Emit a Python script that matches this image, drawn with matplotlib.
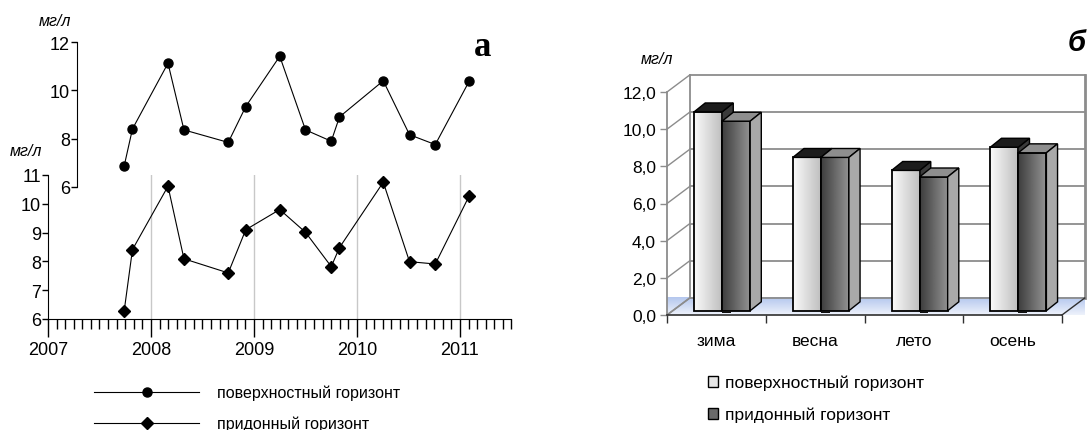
import matplotlib
matplotlib.use('Agg')
import matplotlib.pyplot as plt
import numpy as np
from matplotlib.patches import Polygon, Rectangle, Patch
from matplotlib.lines import Line2D
from matplotlib.colors import LinearSegmentedColormap
from matplotlib.ticker import MultipleLocator, FixedLocator

plt.rcParams['font.family'] = ['Liberation Sans', 'DejaVu Sans']

# --- data: panel a (monthly samples, decimal years) ---
dates = [2007.74, 2007.82, 2008.165, 2008.32, 2008.75, 2008.92, 2009.25,
         2009.50, 2009.75, 2009.83, 2010.255, 2010.51, 2010.76, 2011.09]
surface = [6.87, 8.40, 11.13, 8.36, 7.84, 9.33, 11.42,
           8.36, 7.89, 8.90, 10.40, 8.16, 7.75, 10.39]
bottom = [6.29, 8.41, 10.61, 8.09, 7.60, 9.10, 9.80,
          9.01, 7.82, 8.48, 10.75, 7.99, 7.91, 10.28]
years = [2007, 2008, 2009, 2010, 2011]

# --- data: panel б (seasonal means) ---
seasons = ['зима', 'весна', 'лето', 'осень']
season_surface = [10.7, 8.25, 7.55, 8.8]
season_bottom = [10.2, 8.25, 7.2, 8.5]
lbl_surf = 'поверхностный горизонт'
lbl_bot = 'придонный горизонт'

W, H = 1089, 431
fig = plt.figure(figsize=(W / 100, H / 100), dpi=100)


def box(x0, y0, x1, y1):
    # pixel box (top-left origin) -> figure fraction
    return [x0 / W, 1 - y1 / H, (x1 - x0) / W, (y1 - y0) / H]


# ================= panel a =================
xlo, xhi = 2007, 2011.5
axb = fig.add_axes(box(48, 176, 511.5, 320))
axb.plot(dates, bottom, color='black', lw=0.8, marker='D', ms=6.5,
         mfc='black', mec='black')
axb.set_xlim(xlo, xhi)
axb.set_ylim(6, 11)
axb.set_yticks(range(6, 12))
axb.set_xticks(years)
axb.xaxis.set_minor_locator(MultipleLocator(1 / 12))
for yr in years[1:]:
    axb.axvline(yr, color='#c8c8c8', lw=1.0, zorder=0)
for s in ['top', 'right']:
    axb.spines[s].set_visible(False)
axb.tick_params(axis='x', which='major', length=13, width=1, pad=3, labelsize=13)
axb.tick_params(axis='x', which='minor', length=7, width=1)
axb.tick_params(axis='y', length=4, width=1, pad=1, labelsize=13)

axt = fig.add_axes(box(48, 43.3, 511.5, 187.7))
axt.patch.set_visible(False)
axt.plot(dates, surface, color='black', lw=0.8, marker='o', ms=6.5,
         mfc='black', mec='black', clip_on=False)
axt.set_xlim(xlo, xhi)
axt.set_ylim(6, 12)
axt.set_yticks([6, 8, 10, 12])
axt.set_xticks([])
for s in ['top', 'right', 'bottom']:
    axt.spines[s].set_visible(False)
axt.spines['left'].set_position(('data', 2007.28))
axt.tick_params(axis='y', length=4, width=1, pad=1, labelsize=13)

fig.text(39 / W, 1 - 22 / H, 'мг/л', style='italic', fontsize=11.5, va='center')
fig.text(10 / W, 1 - 152 / H, 'мг/л', style='italic', fontsize=11.5, va='center')
fig.text(483 / W, 1 - 47 / H, 'а', family='Liberation Serif', weight='bold',
         fontsize=25, ha='center', va='center')

h1 = Line2D([], [], color='black', lw=0.8, marker='o', ms=6.5)
h2 = Line2D([], [], color='black', lw=0.8, marker='D', ms=6.5)
fig.legend([h1, h2], [lbl_surf, lbl_bot], loc='upper left',
           bbox_to_anchor=(94 / W, 1 - 386 / H), frameon=False, fontsize=11.5,
           handlelength=6.6, handletextpad=1.1, labelspacing=0.95,
           borderpad=0, borderaxespad=0, numpoints=1)

# ================= panel б =================
ax = fig.add_axes(box(667, 93, 1062, 316))
ax.set_xlim(0, 4)
ax.set_ylim(0, 12)
ax.patch.set_visible(False)
dx, dy = 0.23, 0.915          # depth of the 3d box
sx, sy = 0.058, 0.23          # bars placed at quarter depth
bdx, bdy = 0.113, 0.48        # bar depth
bw = 0.284
grid_c = '#8c8c8c'

# floor with a blue gradient
floor = Polygon([(0, 0), (4, 0), (4 + dx, dy), (dx, dy)], closed=True,
                facecolor='none', edgecolor='none', clip_on=False)
ax.add_patch(floor)
fcm = LinearSegmentedColormap.from_list('fl', ['#eef2fb', '#b4c7ee'])
im = ax.imshow(np.linspace(0, 1, 50).reshape(-1, 1), cmap=fcm, origin='lower',
               extent=[0, 4 + dx, 0, dy], aspect='auto', zorder=1, clip_on=False)
im.set_clip_path(floor)
ax.plot([0, dx], [0, dy], color=grid_c, lw=1.2, clip_on=False, zorder=1.5)
ax.plot([4, 4 + dx], [0, dy], color='#303030', lw=1.0, clip_on=False, zorder=1.5)

# back wall and side wall lines
for v in range(0, 13, 2):
    ax.plot([dx, 4 + dx], [v + dy, v + dy], color=grid_c, lw=1.3,
            clip_on=False, zorder=1.2)
    ax.plot([0, dx], [v, v + dy], color=grid_c, lw=1.0, clip_on=False, zorder=1.2)
ax.plot([dx, dx], [dy, 12 + dy], color=grid_c, lw=1.3, clip_on=False, zorder=1.2)
ax.plot([4 + dx, 4 + dx], [dy, 12 + dy], color=grid_c, lw=2.0, clip_on=False, zorder=1.2)

cm_light = LinearSegmentedColormap.from_list('li', ['#fafafa', '#bdbdbd'])
cm_dark = LinearSegmentedColormap.from_list('dk', ['#3e3e3e', '#949494'])
grad = np.linspace(0, 1, 60).reshape(1, -1)

for i in range(len(seasons)):
    c = i + 0.5
    # surface bar
    v = season_surface[i]
    x0, x1 = c - bw + sx, c + sx
    ax.imshow(grad, cmap=cm_light, extent=[x0, x1, sy, v + sy], aspect='auto',
              zorder=3, clip_on=False)
    ax.add_patch(Rectangle((x0, sy), bw, v, fill=False, ec='black', lw=1.3,
                           zorder=3.1, clip_on=False))
    ax.add_patch(Polygon([(x0, v + sy), (x0 + bdx, v + sy + bdy),
                          (x1 + bdx, v + sy + bdy), (x1, v + sy)],
                         fc='#1c1c1c', ec='black', lw=1.0, zorder=3.2, clip_on=False))
    ax.add_patch(Polygon([(x1, sy), (x1 + bdx, sy + bdy),
                          (x1 + bdx, v + sy + bdy), (x1, v + sy)],
                         fc='#3a3a3a', ec='black', lw=1.0, zorder=2.9, clip_on=False))
    # bottom bar
    v = season_bottom[i]
    x0, x1 = c + sx, c + bw + sx
    ax.imshow(grad, cmap=cm_dark, extent=[x0, x1, sy, v + sy], aspect='auto',
              zorder=4, clip_on=False)
    ax.add_patch(Rectangle((x0, sy), bw, v, fill=False, ec='black', lw=1.3,
                           zorder=4.1, clip_on=False))
    ax.add_patch(Polygon([(x0, v + sy), (x0 + bdx, v + sy + bdy),
                          (x1 + bdx, v + sy + bdy), (x1, v + sy)],
                         fc='#8e8e8e', ec='black', lw=1.0, zorder=4.2, clip_on=False))
    ax.add_patch(Polygon([(x1, sy), (x1 + bdx, sy + bdy),
                          (x1 + bdx, v + sy + bdy), (x1, v + sy)],
                         fc='#a9a9a9', ec='black', lw=1.0, zorder=4.2, clip_on=False))
    ax.add_patch(Rectangle((x0, sy - 0.14), 0.09, 0.14, fc='#101010', ec='none',
                           zorder=4.3, clip_on=False))

for s in ['top', 'right']:
    ax.spines[s].set_visible(False)
ax.spines['left'].set_color(grid_c)
ax.spines['left'].set_linewidth(1.3)
ax.spines['bottom'].set_color('#303030')
ax.spines['bottom'].set_linewidth(1.2)
ax.spines['bottom'].set_zorder(5)
ax.set_yticks(range(0, 13, 2))
ax.set_yticklabels([f'{v:.1f}'.replace('.', ',') for v in range(0, 13, 2)])
ax.tick_params(axis='y', length=5, width=1, color=grid_c, pad=3, labelsize=12.5)
ax.set_xticks(range(5))
ax.set_xticklabels([])
ax.xaxis.set_minor_locator(FixedLocator([i + 0.5 for i in range(4)]))
ax.set_xticklabels(seasons, minor=True)
ax.tick_params(axis='x', which='major', length=6, width=1, color='#303030')
ax.tick_params(axis='x', which='minor', length=0, pad=13, labelsize=12.5)

fig.text(641 / W, 1 - 59 / H, 'мг/л', style='italic', fontsize=11.5, va='center')
fig.text(1077 / W, 1 - 43 / H, 'б', style='italic', weight='bold', fontsize=21,
         ha='center', va='center')

p1 = Patch(fc='#e6e6e6', ec='black', lw=1.0)
p2 = Patch(fc='#6a6a6a', ec='black', lw=1.0)
fig.legend([p1, p2], [lbl_surf, lbl_bot], loc='upper left',
           bbox_to_anchor=(708 / W, 1 - 376 / H), frameon=False, fontsize=12.5,
           handlelength=0.6, handleheight=0.6, handletextpad=0.4,
           labelspacing=0.95, borderpad=0, borderaxespad=0)

fig.savefig('out.png', dpi=100)
